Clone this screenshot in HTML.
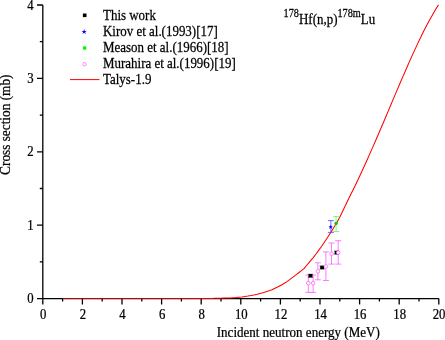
<!DOCTYPE html>
<html><head><meta charset="utf-8">
<style>
html,body{margin:0;padding:0;background:#fff;}
svg{display:block;}
text{font-family:"Liberation Serif","Times New Roman",serif;fill:#000;stroke:#000;stroke-width:0.25px;}
</style></head>
<body>
<svg width="445" height="340" viewBox="0 0 445 340">
<rect width="445" height="340" fill="#fff"/>
<g stroke="#000" stroke-width="1.3" fill="none">
<path d="M42.8 5.0 V298.6 H438.8 M42.80 298.6v5.8 M62.60 298.6v3 M82.40 298.6v5.8 M102.20 298.6v3 M122.00 298.6v5.8 M141.80 298.6v3 M161.60 298.6v5.8 M181.40 298.6v3 M201.20 298.6v5.8 M221.00 298.6v3 M240.80 298.6v5.8 M260.60 298.6v3 M280.40 298.6v5.8 M300.20 298.6v3 M320.00 298.6v5.8 M339.80 298.6v3 M359.60 298.6v5.8 M379.40 298.6v3 M399.20 298.6v5.8 M419.00 298.6v3 M438.80 298.6v5.8 M42.8 298.60h-5.8 M42.8 261.90h-3 M42.8 225.20h-5.8 M42.8 188.50h-3 M42.8 151.80h-5.8 M42.8 115.10h-3 M42.8 78.40h-5.8 M42.8 41.70h-3 M42.8 5.00h-5.8"/>
</g>
<defs><linearGradient id="cg" gradientUnits="userSpaceOnUse" x1="62.6" y1="0" x2="445" y2="0"><stop offset="0" stop-color="#b4000c"/><stop offset="0.3" stop-color="#c8000a"/><stop offset="0.44" stop-color="#ff0000"/><stop offset="1" stop-color="#ff0000"/></linearGradient></defs>
<polyline fill="none" stroke="url(#cg)" stroke-width="1.05" stroke-linejoin="round" points="62.6,298.5 200.0,298.5 203.0,298.4 206.0,298.4 209.0,298.4 212.0,298.4 215.0,298.3 218.0,298.3 221.0,298.2 224.0,298.1 227.0,298.0 230.0,297.9 233.0,297.7 236.0,297.5 239.0,297.2 242.0,296.9 245.0,296.5 248.0,296.1 251.0,295.6 254.0,295.0 257.0,294.3 260.0,293.5 263.0,292.7 266.0,291.8 269.0,290.8 272.0,289.7 275.0,288.2 278.0,286.8 281.0,285.2 284.0,283.5 287.0,281.6 290.0,279.4 293.0,277.1 296.0,274.8 299.0,272.5 302.0,270.2 304.0,268.7 307.0,265.0 310.0,261.4 313.0,257.8 316.0,254.0 319.0,249.9 322.0,245.7 325.0,241.3 328.0,236.8 331.0,232.1 334.0,227.3 337.0,222.3 340.0,216.8 343.0,210.6 346.0,204.2 349.0,198.0 352.0,192.1 355.0,186.0 358.0,179.7 361.0,173.3 364.0,166.8 367.0,160.2 370.0,153.4 373.0,146.6 376.0,139.7 379.0,132.7 382.0,125.7 385.0,118.7 388.0,111.6 391.0,104.5 394.0,97.4 397.0,90.4 400.0,83.3 403.0,76.4 406.0,69.5 409.0,62.6 412.0,55.9 415.0,49.4 418.0,42.9 421.0,36.7 424.0,30.6 427.0,24.8 430.0,19.2 433.0,13.9 436.0,8.8 438.5,4.9"/>
<text transform="translate(33.50,303.20) scale(0.885,1)" font-size="14.4" text-anchor="end">0</text>
<text transform="translate(33.50,229.80) scale(0.885,1)" font-size="14.4" text-anchor="end">1</text>
<text transform="translate(33.50,156.40) scale(0.885,1)" font-size="14.4" text-anchor="end">2</text>
<text transform="translate(33.50,83.00) scale(0.885,1)" font-size="14.4" text-anchor="end">3</text>
<text transform="translate(33.50,9.60) scale(0.885,1)" font-size="14.4" text-anchor="end">4</text>
<text transform="translate(43.30,318.80) scale(0.885,1)" font-size="14.4" text-anchor="middle">0</text>
<text transform="translate(82.90,318.80) scale(0.885,1)" font-size="14.4" text-anchor="middle">2</text>
<text transform="translate(122.50,318.80) scale(0.885,1)" font-size="14.4" text-anchor="middle">4</text>
<text transform="translate(162.10,318.80) scale(0.885,1)" font-size="14.4" text-anchor="middle">6</text>
<text transform="translate(201.70,318.80) scale(0.885,1)" font-size="14.4" text-anchor="middle">8</text>
<text transform="translate(241.30,318.80) scale(0.885,1)" font-size="14.4" text-anchor="middle">10</text>
<text transform="translate(280.90,318.80) scale(0.885,1)" font-size="14.4" text-anchor="middle">12</text>
<text transform="translate(320.50,318.80) scale(0.885,1)" font-size="14.4" text-anchor="middle">14</text>
<text transform="translate(360.10,318.80) scale(0.885,1)" font-size="14.4" text-anchor="middle">16</text>
<text transform="translate(399.70,318.80) scale(0.885,1)" font-size="14.4" text-anchor="middle">18</text>
<text transform="translate(439.00,318.80) scale(0.885,1)" font-size="14.4" text-anchor="middle">20</text>
<text transform="translate(298.30,336.70) scale(0.876,1)" font-size="14.9" text-anchor="middle">Incident neutron energy (MeV)</text>
<text transform="translate(10.10,124.70) rotate(-90) scale(0.893,1)" font-size="14.9" text-anchor="middle">Cross section (mb)</text>
<text transform="translate(103.00,19.70) scale(0.87,1)" font-size="14.9" text-anchor="start">This work</text>
<text transform="translate(103.00,35.85) scale(0.87,1)" font-size="14.9" text-anchor="start">Kirov et al.(1993)[17]</text>
<text transform="translate(103.00,52.00) scale(0.87,1)" font-size="14.9" text-anchor="start">Meason et al.(1966)[18]</text>
<text transform="translate(103.00,68.15) scale(0.87,1)" font-size="14.9" text-anchor="start">Murahira et al.(1996)[19]</text>
<text transform="translate(103.00,84.30) scale(0.87,1)" font-size="14.9" text-anchor="start">Talys-1.9</text>
<rect x="82.9" y="13.5" width="3.6" height="3.6" fill="#000"/>
<text x="84.4" y="33.9" font-size="6.5" text-anchor="middle" style="fill:#00f;stroke:none">★</text>
<circle cx="84.7" cy="48" r="1.9" fill="#0f0"/>
<circle cx="84.5" cy="64.2" r="1.7" fill="#fff" stroke="#f5f" stroke-width="0.7"/>
<path d="M70 79.6H99.5" stroke="#f00" stroke-width="1"/>
<text transform="translate(283.60,23.90) scale(0.87,1)" font-size="14.9" text-anchor="start"><tspan font-size="11.8" dy="-6.6">178</tspan><tspan dy="6.6">Hf(n,p)</tspan><tspan font-size="11.8" dy="-6.6">178m</tspan><tspan dy="6.6">Lu</tspan></text>
<g stroke="#ff50ff" stroke-width="0.75" fill="none">
<path d="M308.3 275.1V292.4 M305.3 275.1h6 M305.3 292.4h6 M313.1 275.1V292.4 M310.1 275.1h6 M310.1 292.4h6 M317.9 262.8V279.8 M314.9 262.8h6 M314.9 279.8h6 M325.9 251.9V280.5 M322.9 251.9h6 M322.9 280.5h6 M331.5 243V264.1 M328.5 243h6 M328.5 264.1h6 M338.2 240.7V264.1 M335.2 240.7h6 M335.2 264.1h6"/>
</g>
<rect x="308.6" y="274.0" width="3.8" height="3.4" fill="#000"/>
<path d="M307.9 274.3h5.2 M307.9 277.09999999999997h5.2" stroke="#000" stroke-width="0.6"/>
<rect x="320.20000000000005" y="265.8" width="3.8" height="3.4" fill="#000"/>
<path d="M319.5 266.1h5.2 M319.5 268.9h5.2" stroke="#000" stroke-width="0.6"/>
<rect x="334.70000000000005" y="250.9" width="3.8" height="3.4" fill="#000"/>
<path d="M334.0 251.2h5.2 M334.0 254.0h5.2" stroke="#000" stroke-width="0.6"/>
<g stroke="#ff50ff" stroke-width="0.7" fill="#fff">
<circle cx="308.3" cy="283.2" r="1.8"/>
<circle cx="313.1" cy="283.2" r="1.8"/>
<circle cx="317.9" cy="271.3" r="1.8"/>
<circle cx="325.9" cy="266.5" r="1.8"/>
<circle cx="331.5" cy="253.8" r="1.8"/>
<circle cx="338.2" cy="252.6" r="1.8"/>
</g>
<path d="M330.9 220.6V232.4 M327.9 220.6h6 M327.9 232.4h6" stroke="#4646ff" stroke-width="0.8" fill="none"/>
<text x="330.9" y="229" font-size="6" text-anchor="middle" style="fill:#00f;stroke:none">★</text>
<path d="M336.1 216.5V231.5 M333.1 216.5h6 M333.1 231.5h6" stroke="#5f5" stroke-width="0.8" fill="none"/>
<circle cx="336.1" cy="223.4" r="1.7" fill="#0c0"/>
</svg>
</body></html>
